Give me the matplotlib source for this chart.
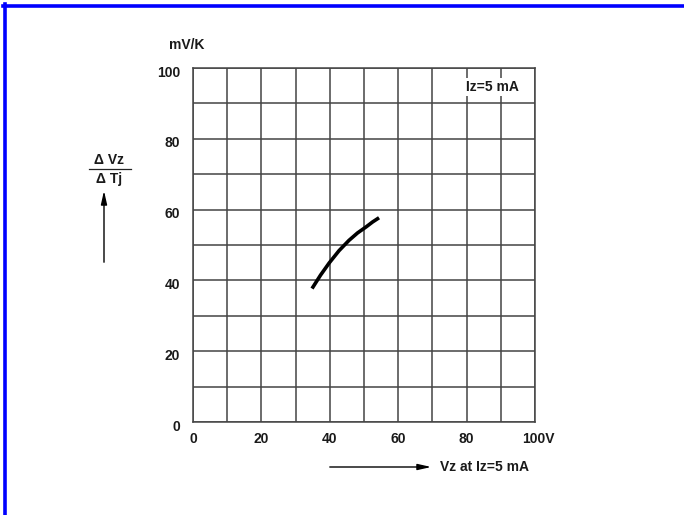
import matplotlib.pyplot as plt
from matplotlib.lines import Line2D
from matplotlib.patches import FancyArrowPatch

# curve (Vz in V, dVz/dTj in mV/K)
vz = [34.8, 37.3, 39.8, 42.7, 45.6, 48.1, 50.6, 52.5, 54.4]
tc = [37.7, 41.5, 44.9, 48.4, 51.3, 53.4, 55.1, 56.5, 57.7]

xticks = [0, 20, 40, 60, 80, 100]
xlabels = ['0', '20', '40', '60', '80', '100V']
yticks = [0, 20, 40, 60, 80, 100]
ylabels = ['0', '20', '40', '60', '80', '100']

W, H = 684, 515
def fx(px):
    return px / W
def fy(py):
    return 1 - py / H

plt.rcParams['font.family'] = ['Liberation Sans', 'DejaVu Sans']
fig = plt.figure(figsize=(6.84, 5.15), dpi=100)
ax = fig.add_axes([fx(193), fy(422), (535 - 193) / W, (422 - 68) / H])

ax.plot(vz, tc, color='black', lw=2.6, solid_capstyle='butt', solid_joinstyle='round', zorder=3)

ax.set_xlim(0, 100)
ax.set_ylim(0, 100)
ax.set_xticks(range(0, 101, 10))
ax.set_yticks(range(0, 101, 10))
ax.grid(True, color='#444444', lw=1.1)
ax.tick_params(length=0, labelbottom=False, labelleft=False)
for s in ax.spines.values():
    s.set_color('#444444')
    s.set_linewidth(1.1)

txt = dict(fontsize=10, fontweight='bold', color='#1a1a1a')
for v, lab in zip(xticks, xlabels):
    ax.text(v + (1.0 if lab == '100V' else 0), -4.8, lab, ha='center', va='center', **txt)
for v, lab in zip(yticks, ylabels):
    ax.text(-3.8, v - 1.3, lab, ha='right', va='center', **txt)

ax.text(87.7, 94.6, 'Iz=5 mA', ha='center', va='center', zorder=4,
        bbox=dict(facecolor='white', edgecolor='none', pad=1.5), **txt)

fig.text(fx(169), fy(45), 'mV/K', ha='left', va='center', **txt)

# dVz/dTj label
fig.text(fx(109), fy(160), 'Δ Vz', ha='center', va='center', **txt)
fig.text(fx(109), fy(179), 'Δ Tj', ha='center', va='center', **txt)
fig.add_artist(Line2D([fx(89), fx(131)], [fy(169), fy(169)], color='#222222', lw=0.9))

arrow_up = FancyArrowPatch((fx(104), fy(265)), (fx(104), fy(188)), transform=fig.transFigure,
                           arrowstyle='-|>,head_length=8,head_width=1.8', color='black', lw=1.0)
fig.add_artist(arrow_up)
arrow_right = FancyArrowPatch((fx(327), fy(467)), (fx(434), fy(467)), transform=fig.transFigure,
                              arrowstyle='-|>,head_length=8,head_width=1.8', color='black', lw=1.0)
fig.add_artist(arrow_right)
fig.text(fx(440), fy(467), 'Vz at Iz=5 mA', ha='left', va='center', **txt)

# blue frame (top and left edges only)
fig.add_artist(Line2D([fx(3), fx(684)], [fy(5.5), fy(5.5)], color='#0000ff', lw=2.6))
fig.add_artist(Line2D([fx(4.5), fx(4.5)], [fy(4), fy(515)], color='#0000ff', lw=2.6))

fig.savefig('out.png', dpi=100)
